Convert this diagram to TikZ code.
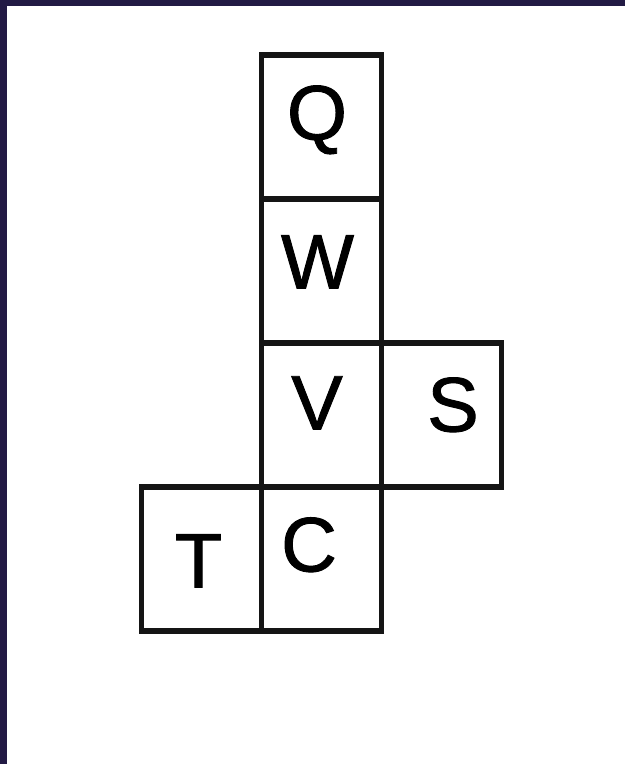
\documentclass[tikz,border=0pt]{standalone}
\usepackage{fontspec}
\setmainfont{Liberation Sans}
\newfontfamily\cellfont[FakeBold=1.2]{Liberation Sans}
\usetikzlibrary{positioning}
\definecolor{frameblue}{HTML}{221A44}
\definecolor{edgegray}{HTML}{151515}

\begin{document}
\begin{tikzpicture}[x=0.02cm, y=-0.02cm,
    cell/.style={draw=edgegray, line width=3.1pt, minimum width=2.4cm,
                 minimum height=2.88cm, inner sep=0pt, outer sep=0pt},
    letter/.style={font=\cellfont\fontsize{44}{50}\selectfont, inner sep=0pt,
                   text height=1.1cm, text depth=0pt, text=black}]
  % Frame
  \useasboundingbox (0,0) rectangle (625,764);
  \fill[white] (0,0) rectangle (625,764);
  \fill[frameblue] (0,0) rectangle (625,6);
  \fill[frameblue] (0,0) rectangle (7,764);

  % Column of cells
  \node[cell] (q) at (321.5,127) {};
  \node[cell, below=0pt of q] (w) {};
  \node[cell, below=0pt of w] (v) {};
  \node[cell, below=0pt of v] (c) {};
  % Side cells
  \node[cell, right=0pt of v] (s) {};
  \node[cell, left=0pt of c] (t) {};

  % Letters
  \node[letter] (qlbl) at ([shift={(-4.5,-15)}]q.center) {Q};
  \node[letter] (wlbl) at ([shift={(-4,-10)}]w.center) {W};
  \node[letter] (vlbl) at ([shift={(-4.5,-13)}]v.center) {V};
  \node[letter] (slbl) at ([shift={(11.5,-11)}]s.center) {S};
  \node[letter] (clbl) at ([shift={(-12.5,-15)}]c.center) {C};
  \node[letter] (tlbl) at ([shift={(-3,1)}]t.center) {T};
\end{tikzpicture}
\end{document}
